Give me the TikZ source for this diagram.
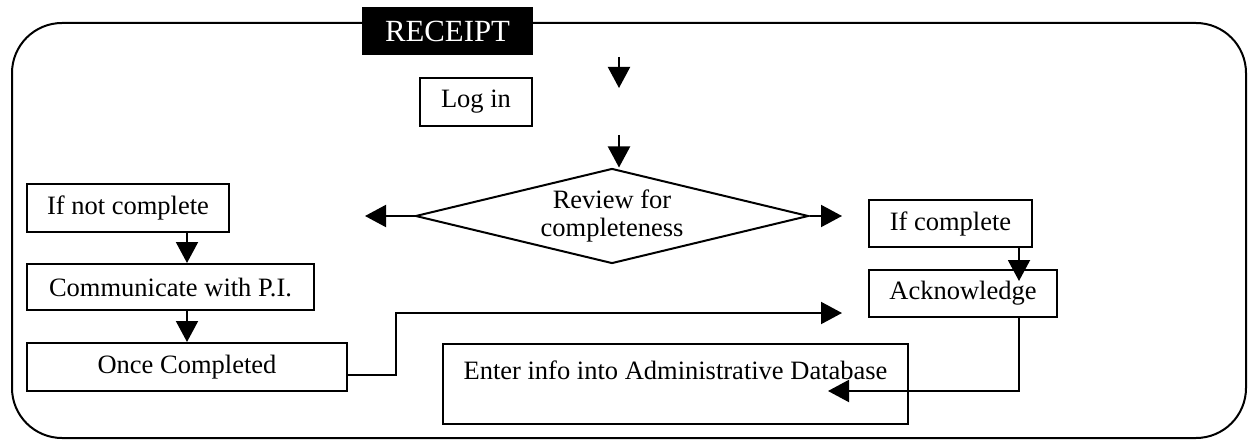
\documentclass[tikz,border=0pt]{standalone}
\usepackage{fontspec}
\setmainfont{Liberation Serif}
\usetikzlibrary{arrows.meta,shapes.geometric}
\begin{document}
\begin{tikzpicture}[x=1pt,y=-1pt,
  every node/.style={font=\fontsize{26.5}{28}\selectfont},
  stepbox/.style={draw,line width=2pt,rectangle,inner sep=0pt,minimum height=48pt},
  flow/.style={line width=2pt,-{Triangle[length=21pt,width=22pt]}},
  frame/.style={line width=2pt,rounded corners=50pt}]
\useasboundingbox (0,0) rectangle (1248,441);

% outer frame and its title tab
\draw[frame] (12,23) rectangle (1246,438);
\node[fill=black,text=white,minimum width=171pt,minimum height=48pt,inner sep=0pt,
      font=\fontsize{30.8}{32}\selectfont] (title) at (447.5,31) {RECEIPT};

% process steps
\node[stepbox,minimum width=112pt] (login) at (476,102) {Log in};
\node[diamond,draw,line width=2pt,aspect=4.14,inner sep=0pt,
      minimum width=393pt,minimum height=95pt,align=center]
      (review) at (612,216) {Review for\\completeness};
\node[stepbox,minimum width=202pt] (ifnot) at (128,208) {If not complete};
\node[stepbox,minimum width=287pt,minimum height=46pt] (comm) at (170.5,287) {Communicate with P.I.};
\node[stepbox,minimum width=320pt] (once) at (187,367) {Once Completed};
\node[stepbox,minimum width=163pt,minimum height=47pt] (ifc) at (950.5,223.5) {If complete};
\node[stepbox,minimum width=188pt,minimum height=47pt] (ack) at (963,293.5) {Acknowledge};
\node[draw,line width=2pt,rectangle,inner xsep=0pt,inner ysep=0pt,minimum width=465pt,
      text height=35pt,text depth=45pt,anchor=north] (db) at (675.5,343)
      {Enter info into Administrative Database};

% connectors
\coordinate (topA) at (619,57);
\coordinate (topB) at (619,88);
\draw[flow] (topA) -- (topB);
\coordinate (midA) at (619,135);
\draw[flow] (midA) -- (midA |- review.north);
\coordinate (noEnd) at (365,216);
\coordinate (yesEnd) at (842,216);
\draw[flow] (review.west) -- (noEnd);
\draw[flow] (review.east) -- (yesEnd);
\draw[flow] (ifnot.south -| once.north) -- (comm.north -| once.north);
\draw[flow] (comm.south -| once.north) -- (once.north);
\coordinate (backEnd) at (842,313);
\draw[flow] ([yshift=-8pt]once.east) -- ++(48,0) |- (backEnd);
\coordinate (ackIn) at (1019,281);
\draw[flow] (ifc.south -| ackIn) -- (ackIn);
\coordinate (dbIn) at (828,391);
\draw[flow] (ack.south -| ackIn) |- (dbIn);
\end{tikzpicture}
\end{document}
